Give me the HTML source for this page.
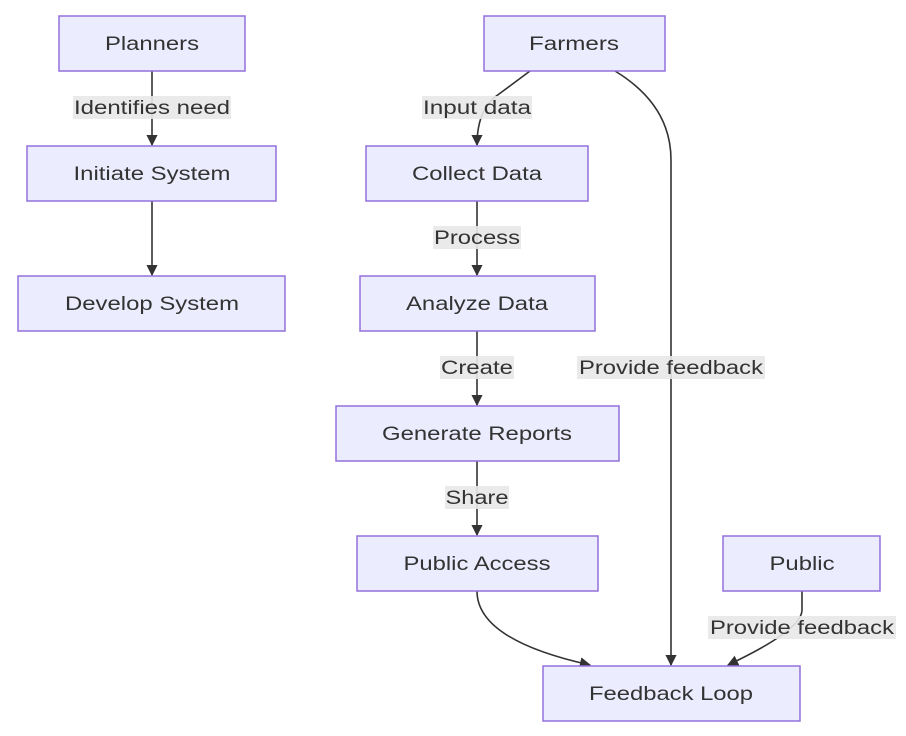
<!DOCTYPE html>
<html><head><meta charset="utf-8"><style>
html,body{margin:0;padding:0;background:#fff;}
svg text{font-family:"Liberation Sans",Arial,sans-serif;font-size:19px;fill:#333;}
</style></head><body>
<svg width="906" height="731" viewBox="0 0 906 731" xmlns="http://www.w3.org/2000/svg">
<defs><marker id="a" viewBox="0 0 10 10" refX="9" refY="5" markerWidth="7" markerHeight="7" orient="auto"><path d="M0,0 L10,5 L0,10 z" fill="#333"/></marker></defs>
<g fill="none" stroke="#333" stroke-width="1.6">
<path d="M152,71 V145" marker-end="url(#a)"/>
<path d="M152,201 V275" marker-end="url(#a)"/>
<path d="M530,71 L495,97 Q477,112 477,145" marker-end="url(#a)"/>
<path d="M477,201 V275" marker-end="url(#a)"/>
<path d="M477,331 V405" marker-end="url(#a)"/>
<path d="M477,461 V535" marker-end="url(#a)"/>
<path d="M615,71 Q671,105 671,160 V665" marker-end="url(#a)"/>
<path d="M477,591 Q477,640 590,665" marker-end="url(#a)"/>
<path d="M802,591 V610 Q802,630 728,665" marker-end="url(#a)"/>
</g>
<g fill="#e8e8e8" opacity="0.9">
<rect x="73" y="96" width="158" height="23"/>
<rect x="422" y="96" width="110" height="23"/>
<rect x="433" y="226" width="88" height="23"/>
<rect x="440" y="356" width="74" height="23"/>
<rect x="445" y="486" width="64" height="23"/>
<rect x="577" y="356" width="188" height="23"/>
<rect x="708" y="616" width="188" height="23"/>
</g>
<g text-anchor="middle" lengthAdjust="spacingAndGlyphs">
<text x="152" y="114" textLength="156" lengthAdjust="spacingAndGlyphs">Identifies need</text>
<text x="477" y="114" textLength="108" lengthAdjust="spacingAndGlyphs">Input data</text>
<text x="477" y="244" textLength="86" lengthAdjust="spacingAndGlyphs">Process</text>
<text x="477" y="374" textLength="72" lengthAdjust="spacingAndGlyphs">Create</text>
<text x="477" y="504" textLength="63" lengthAdjust="spacingAndGlyphs">Share</text>
<text x="671" y="374" textLength="184" lengthAdjust="spacingAndGlyphs">Provide feedback</text>
<text x="802" y="634" textLength="184" lengthAdjust="spacingAndGlyphs">Provide feedback</text>
</g>
<g fill="#ECECFF" stroke="#9370DB" stroke-width="1.5">
<rect x="59" y="16" width="186" height="55"/>
<rect x="27" y="146" width="249" height="55"/>
<rect x="18" y="276" width="267" height="55"/>
<rect x="484" y="16" width="181" height="55"/>
<rect x="366" y="146" width="222" height="55"/>
<rect x="360" y="276" width="235" height="55"/>
<rect x="336" y="406" width="283" height="55"/>
<rect x="357" y="536" width="241" height="55"/>
<rect x="723" y="536" width="157" height="55"/>
<rect x="543" y="666" width="257" height="55"/>
</g>
<g text-anchor="middle">
<text x="152" y="50" textLength="94" lengthAdjust="spacingAndGlyphs">Planners</text>
<text x="152" y="180" textLength="157" lengthAdjust="spacingAndGlyphs">Initiate System</text>
<text x="152" y="310" textLength="174" lengthAdjust="spacingAndGlyphs">Develop System</text>
<text x="574" y="50" textLength="90" lengthAdjust="spacingAndGlyphs">Farmers</text>
<text x="477" y="180" textLength="130" lengthAdjust="spacingAndGlyphs">Collect Data</text>
<text x="477" y="310" textLength="142" lengthAdjust="spacingAndGlyphs">Analyze Data</text>
<text x="477" y="440" textLength="190" lengthAdjust="spacingAndGlyphs">Generate Reports</text>
<text x="477" y="570" textLength="147" lengthAdjust="spacingAndGlyphs">Public Access</text>
<text x="802" y="570" textLength="65" lengthAdjust="spacingAndGlyphs">Public</text>
<text x="671" y="700" textLength="164" lengthAdjust="spacingAndGlyphs">Feedback Loop</text>
</g>
</svg>
</body></html>
